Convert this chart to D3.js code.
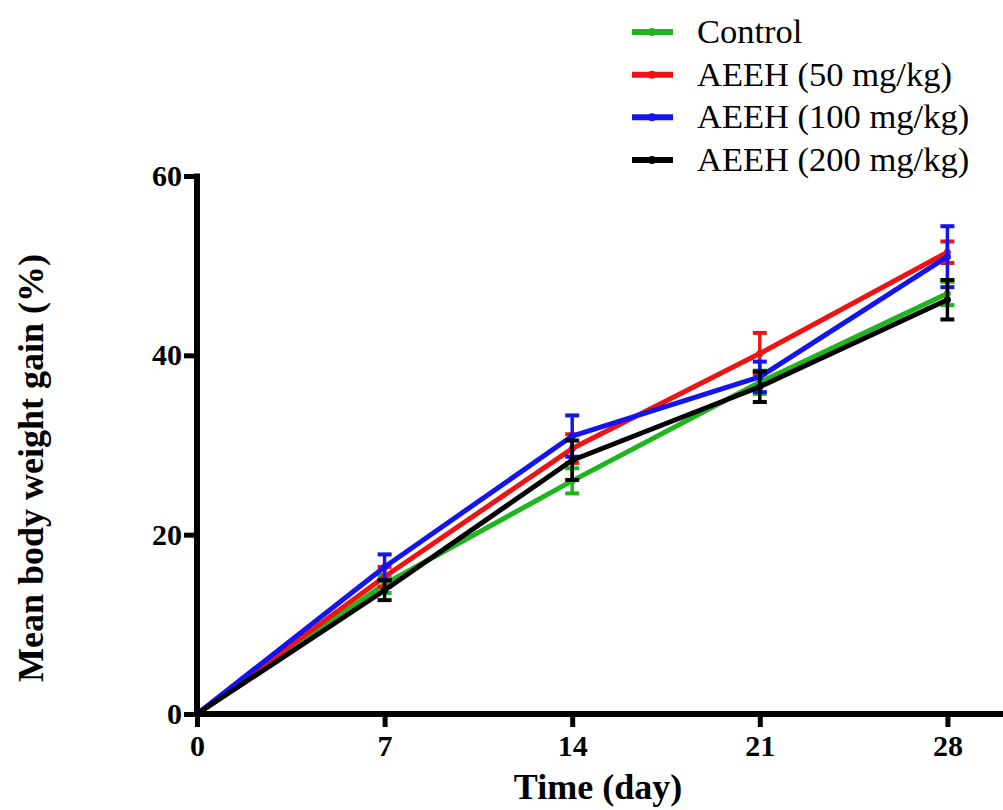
<!DOCTYPE html>
<html>
<head>
<meta charset="utf-8">
<script src="https://cdn.jsdelivr.net/npm/d3@7"></script>
<style>
  html, body { margin: 0; padding: 0; background: #fff; }
  svg { display: block; }
</style>
</head>
<body>
<svg id="chart" width="1003" height="810"></svg>
<script>
// Days of measurement
const days = [0, 7, 14, 21, 28];

// Group names as shown in the legend
const groups = ["Control", "AEEH (50 mg/kg)", "AEEH (100 mg/kg)", "AEEH (200 mg/kg)"];
const groupColors = ["#1fb51f", "#ee1414", "#1414ee", "#000000"];

// Mean body weight gain (%) per group, per day
const controlMean = [0, 14.5, 26.0, 37.0, 46.9];
const aeeh50Mean  = [0, 15.3, 29.6, 40.2, 51.5];
const aeeh100Mean = [0, 16.4, 31.0, 37.6, 51.0];
const aeeh200Mean = [0, 13.8, 28.3, 36.5, 46.2];

// Standard error of the mean per group, per day
const controlErr = [0, 1.0, 1.4, 1.3, 1.3];
const aeeh50Err  = [0, 1.1, 1.6, 2.3, 1.2];
const aeeh100Err = [0, 1.4, 2.3, 1.7, 3.4];
const aeeh200Err = [0, 1.1, 2.2, 1.7, 2.2];

// Axis ticks
const xTicks = [0, 7, 14, 21, 28];
const yTicks = [0, 20, 40, 60];

const FONT = "'Liberation Serif', 'Times New Roman', serif";

const seriesMeans = [controlMean, aeeh50Mean, aeeh100Mean, aeeh200Mean];
const seriesErrs = [controlErr, aeeh50Err, aeeh100Err, aeeh200Err];
const series = groups.map((name, i) => ({
  name,
  color: groupColors[i],
  points: days.map((d, j) => ({ day: d, mean: seriesMeans[i][j], err: seriesErrs[i][j] }))
}));

const svg = d3.select("#chart");

const x = d3.scaleLinear().domain([0, 30]).range([197, 1001]);
const y = d3.scaleLinear().domain([0, 60]).range([714, 176]);

// Axes
const xAxis = svg.append("g")
  .attr("transform", `translate(0,${y(0)})`)
  .call(d3.axisBottom(x).tickValues(xTicks).tickSize(13).tickSizeOuter(0).tickPadding(8).tickFormat(d3.format("d")));
xAxis.select(".domain").attr("d", `M${x(0) - 3},0H1003`).attr("stroke", "#000").attr("stroke-width", 6);
xAxis.selectAll(".tick line").attr("stroke", "#000").attr("stroke-width", 5);
xAxis.selectAll(".tick text")
  .attr("fill", "#000").attr("font-size", 30).attr("font-weight", "bold")
  .attr("font-family", FONT);

const yAxis = svg.append("g")
  .attr("transform", `translate(${x(0)},0)`)
  .call(d3.axisLeft(y).tickValues(yTicks).tickSize(13).tickSizeOuter(0).tickPadding(2).tickFormat(d3.format("d")));
yAxis.select(".domain").attr("d", `M0,${y(60) - 2.5}V${y(0) + 3}`).attr("stroke", "#000").attr("stroke-width", 6);
yAxis.selectAll(".tick line").attr("stroke", "#000").attr("stroke-width", 5);
yAxis.selectAll(".tick text")
  .attr("fill", "#000").attr("font-size", 30).attr("font-weight", "bold")
  .attr("font-family", FONT);

// Axis titles
svg.append("text")
  .attr("x", 598).attr("y", 799)
  .attr("text-anchor", "middle")
  .attr("font-family", FONT)
  .attr("font-size", 36).attr("font-weight", "bold")
  .text("Time (day)");

svg.append("text")
  .attr("transform", "translate(43,468) rotate(-90)")
  .attr("text-anchor", "middle")
  .attr("font-family", FONT)
  .attr("font-size", 36).attr("font-weight", "bold")
  .text("Mean body weight gain (%)");

// Data series: line, error bars, markers
const line = d3.line().x(d => x(d.day)).y(d => y(d.mean));
const capHalf = 7;

series.forEach(s => {
  const g = svg.append("g");
  g.append("path")
    .datum(s.points)
    .attr("d", line)
    .attr("fill", "none")
    .attr("stroke", s.color)
    .attr("stroke-width", 5)
    .attr("stroke-linejoin", "round");

  const withErr = s.points.filter(p => p.err > 0);
  g.selectAll(".bar").data(withErr).enter().append("line")
    .attr("x1", p => x(p.day)).attr("x2", p => x(p.day))
    .attr("y1", p => y(p.mean + p.err)).attr("y2", p => y(p.mean - p.err))
    .attr("stroke", s.color).attr("stroke-width", 3.5);
  g.selectAll(".capTop").data(withErr).enter().append("line")
    .attr("x1", p => x(p.day) - capHalf).attr("x2", p => x(p.day) + capHalf)
    .attr("y1", p => y(p.mean + p.err)).attr("y2", p => y(p.mean + p.err))
    .attr("stroke", s.color).attr("stroke-width", 4);
  g.selectAll(".capBot").data(withErr).enter().append("line")
    .attr("x1", p => x(p.day) - capHalf).attr("x2", p => x(p.day) + capHalf)
    .attr("y1", p => y(p.mean - p.err)).attr("y2", p => y(p.mean - p.err))
    .attr("stroke", s.color).attr("stroke-width", 4);

  g.selectAll("circle").data(s.points).enter().append("circle")
    .attr("cx", p => x(p.day)).attr("cy", p => y(p.mean))
    .attr("r", 3.5).attr("fill", s.color);
});

// Legend
const legendRowY = d3.scalePoint().domain(groups).range([32, 160]);
const legend = svg.append("g");
series.forEach(s => {
  const ly = legendRowY(s.name);
  legend.append("line")
    .attr("x1", 632).attr("x2", 673).attr("y1", ly).attr("y2", ly)
    .attr("stroke", s.color).attr("stroke-width", 6);
  legend.append("circle")
    .attr("cx", 652).attr("cy", ly).attr("r", 4).attr("fill", s.color);
  legend.append("text")
    .attr("x", 697).attr("y", ly + 11)
    .attr("font-family", FONT)
    .attr("font-size", 34.5)
    .attr("fill", "#000")
    .text(s.name);
});
</script>
</body>
</html>
